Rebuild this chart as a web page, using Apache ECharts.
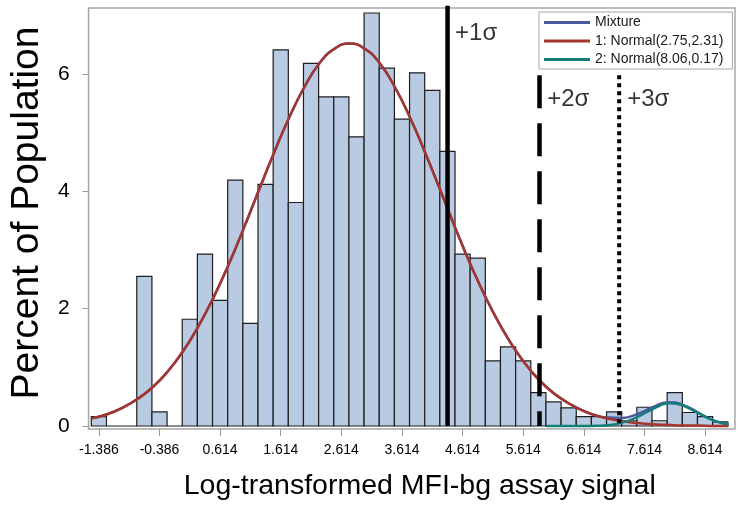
<!DOCTYPE html>
<html>
<head>
<meta charset="utf-8">
<script src="https://cdn.jsdelivr.net/npm/echarts@6/dist/echarts.min.js"></script>
<style>
html,body{margin:0;padding:0;background:#fff;}
#chart{width:743px;height:508px;}
</style>
</head>
<body>
<div id="chart"></div>
<script>
// ---- Data ----
const binCenters = [-1.386,-1.136,-0.886,-0.636,-0.386,-0.136,0.114,0.364,0.614,0.864,
  1.114,1.364,1.614,1.864,2.114,2.364,2.614,2.864,3.114,3.364,3.614,3.864,4.114,4.364,
  4.614,4.864,5.114,5.364,5.614,5.864,6.114,6.364,6.614,6.864,7.114,7.364,7.614,7.864,
  8.114,8.364,8.614,8.864];
const binWidth = 0.25;
const percents = [0.16,0,0,2.55,0.24,0,1.82,2.93,2.14,4.19,
  1.75,4.12,6.41,3.81,6.18,5.61,5.61,4.93,7.04,6.10,
  5.23,6.02,5.72,4.68,2.93,2.86,1.11,1.35,1.11,0.57,
  0.41,0.31,0.16,0.16,0.24,0.09,0.32,0.09,0.57,0.23,0.16,0.07];

const curveX = [-1.5,-1.25,-1.0,-0.75,-0.5,-0.25,0,0.25,0.5,0.75,1.0,1.25,1.5,1.75,2.0,2.25,2.5,2.75,
  3.0,3.25,3.5,3.75,4.0,4.25,4.5,4.75,5.0,5.25,5.5,5.75,6.0,6.25,6.5,6.75,7.0,7.25,7.5,7.75,8.0,8.25,8.5,8.75,9.0];
const normal1Y = [0.13,0.20,0.31,0.46,0.66,0.93,1.27,1.69,2.18,2.74,3.36,4.01,4.65,5.25,5.77,6.18,6.43,6.52,
  6.43,6.18,5.77,5.25,4.65,4.01,3.36,2.74,2.18,1.69,1.27,0.93,0.66,0.46,0.31,0.20,0.13,0.08,0.05,0.03,0.02,0.01,0.01,0.0,0.0];
const normal2X = [6.0,6.25,6.5,6.75,7.0,7.25,7.5,7.75,8.0,8.06,8.25,8.5,8.75,9.0];
const normal2Y = [0.0,0.0,0.0,0.002,0.014,0.057,0.155,0.29,0.386,0.39,0.35,0.22,0.096,0.029];
const mixtureY = [0.13,0.20,0.31,0.46,0.66,0.93,1.27,1.69,2.18,2.74,3.36,4.01,4.65,5.25,5.77,6.18,6.43,6.52,
  6.43,6.18,5.77,5.25,4.65,4.01,3.36,2.74,2.18,1.69,1.27,0.93,0.66,0.46,0.31,0.20,0.144,0.137,0.205,0.32,0.406,0.36,0.23,0.096,0.029];

const sigmaX = [4.366, 5.883, 7.197];
const sigmaTop = [7.2, 5.98, 5.98];
const sigmaLabels = ['+1σ', '+2σ', '+3σ'];
const sigmaLabelPos = [[4.49, 6.70], [6.01, 5.56], [7.33, 5.56]];

const xTickLabels = ['-1.386','-0.386','0.614','1.614','2.614','3.614','4.614','5.614','6.614','7.614','8.614'];
const yTickLabels = ['0','2','4','6'];
const seriesNames = ['Mixture', '1: Normal(2.75,2.31)', '2: Normal(8.06,0.17)'];

// ---- Build options ----
const xTickVals = xTickLabels.map(Number);
const yTickVals = yTickLabels.map(Number);
const FONT = '"Liberation Sans", Arial, sans-serif';

const barData = binCenters.map((c, i) => [c, percents[i]]);
const zip = (xs, ys) => xs.map((x, i) => [x, ys[i]]);

const chart = echarts.init(document.getElementById('chart'), null, {renderer: 'canvas'});
const option = {
  animation: false,
  textStyle: {fontFamily: FONT},
  grid: {left: 88, right: 8, top: 8, bottom: 79, show: true, borderColor: '#a6a6a6', borderWidth: 1.5, backgroundColor: 'transparent'},
  legend: {
    data: seriesNames,
    orient: 'vertical',
    left: 539, top: 12,
    padding: [3, 9, 2, 5],
    itemWidth: 46, itemHeight: 3, itemGap: 3.5,
    icon: 'rect',
    borderColor: '#a6a6a6', borderWidth: 1, backgroundColor: '#fff',
    textStyle: {fontSize: 14, color: '#1a1a1a', fontFamily: FONT, lineHeight: 15}
  },
  xAxis: {
    type: 'value', min: -1.556, max: 9.108,
    axisLine: {show: false, onZero: false},
    splitLine: {show: false},
    axisTick: {show: true, customValues: xTickVals, length: 7, lineStyle: {color: '#999', width: 1}},
    axisLabel: {customValues: xTickVals, formatter: v => v.toFixed(3), fontSize: 14, color: '#000', margin: 14, fontFamily: FONT},
    name: 'Log-transformed MFI-bg assay signal',
    nameLocation: 'middle', nameGap: 43,
    nameTextStyle: {fontSize: 28.5, color: '#000', fontFamily: FONT, padding: [0, 0, 0, 16]}
  },
  yAxis: {
    type: 'value', min: -0.051, max: 7.125,
    axisLine: {show: false, onZero: false},
    splitLine: {show: false},
    axisTick: {show: true, customValues: yTickVals, length: 6, lineStyle: {color: '#999', width: 1}},
    axisLabel: {customValues: yTickVals, formatter: v => String(Math.round(v)), fontSize: 21, color: '#000', margin: 19, fontFamily: FONT},
    name: 'Percent of Population',
    nameLocation: 'middle', nameGap: 38,
    nameTextStyle: {fontSize: 39, color: '#000', fontFamily: FONT, padding: [0, 0, 0, 11]}
  },
  series: [
    {
      type: 'custom', name: 'hist', data: barData, z: 1,
      renderItem: function (params, api) {
        const c = api.value(0), h = api.value(1);
        const p0 = api.coord([c - binWidth / 2, h]);
        const p1 = api.coord([c + binWidth / 2, 0]);
        return {
          type: 'rect',
          shape: {x: p0[0], y: p0[1], width: p1[0] - p0[0], height: p1[1] - p0[1]},
          style: {fill: '#b9cbe2', stroke: '#1e1e1e', lineWidth: 1.2}
        };
      }
    },
    {
      type: 'line', name: seriesNames[0], data: zip(curveX, mixtureY), smooth: true, showSymbol: false, z: 3,
      lineStyle: {color: '#4a5a9c', width: 2.5}, itemStyle: {color: '#4a5a9c'}
    },
    {
      type: 'line', name: seriesNames[1], data: zip(curveX, normal1Y), smooth: true, showSymbol: false, z: 4,
      lineStyle: {color: '#a5352d', width: 2.5}, itemStyle: {color: '#a5352d'}
    },
    {
      type: 'line', name: seriesNames[2], data: zip(normal2X, normal2Y), smooth: true, showSymbol: false, z: 5,
      lineStyle: {color: '#11807a', width: 2.5}, itemStyle: {color: '#11807a'}
    },
    {
      type: 'line', name: 'sd1', data: [[sigmaX[0], sigmaTop[0]], [sigmaX[0], 0]], showSymbol: false, z: 6,
      lineStyle: {color: '#000', width: 4.5, type: 'solid'}
    },
    {
      type: 'line', name: 'sd2', data: [[sigmaX[1], sigmaTop[1]], [sigmaX[1], 0]], showSymbol: false, z: 6,
      lineStyle: {color: '#000', width: 4.5, type: [33, 15]}
    },
    {
      type: 'line', name: 'sd3', data: [[sigmaX[2], sigmaTop[2]], [sigmaX[2], 0]], showSymbol: false, z: 6,
      lineStyle: {color: '#000', width: 4, type: [4, 4]}
    },
    {
      type: 'scatter', name: 'sdLabels', symbolSize: 0, z: 7,
      data: sigmaLabelPos.map((p, i) => ({value: p, name: sigmaLabels[i]})),
      label: {show: true, position: 'right', distance: 0, formatter: p => p.name, fontSize: 24, color: '#000', fontFamily: FONT}
    }
  ]
};
chart.setOption(option);
</script>
</body>
</html>
